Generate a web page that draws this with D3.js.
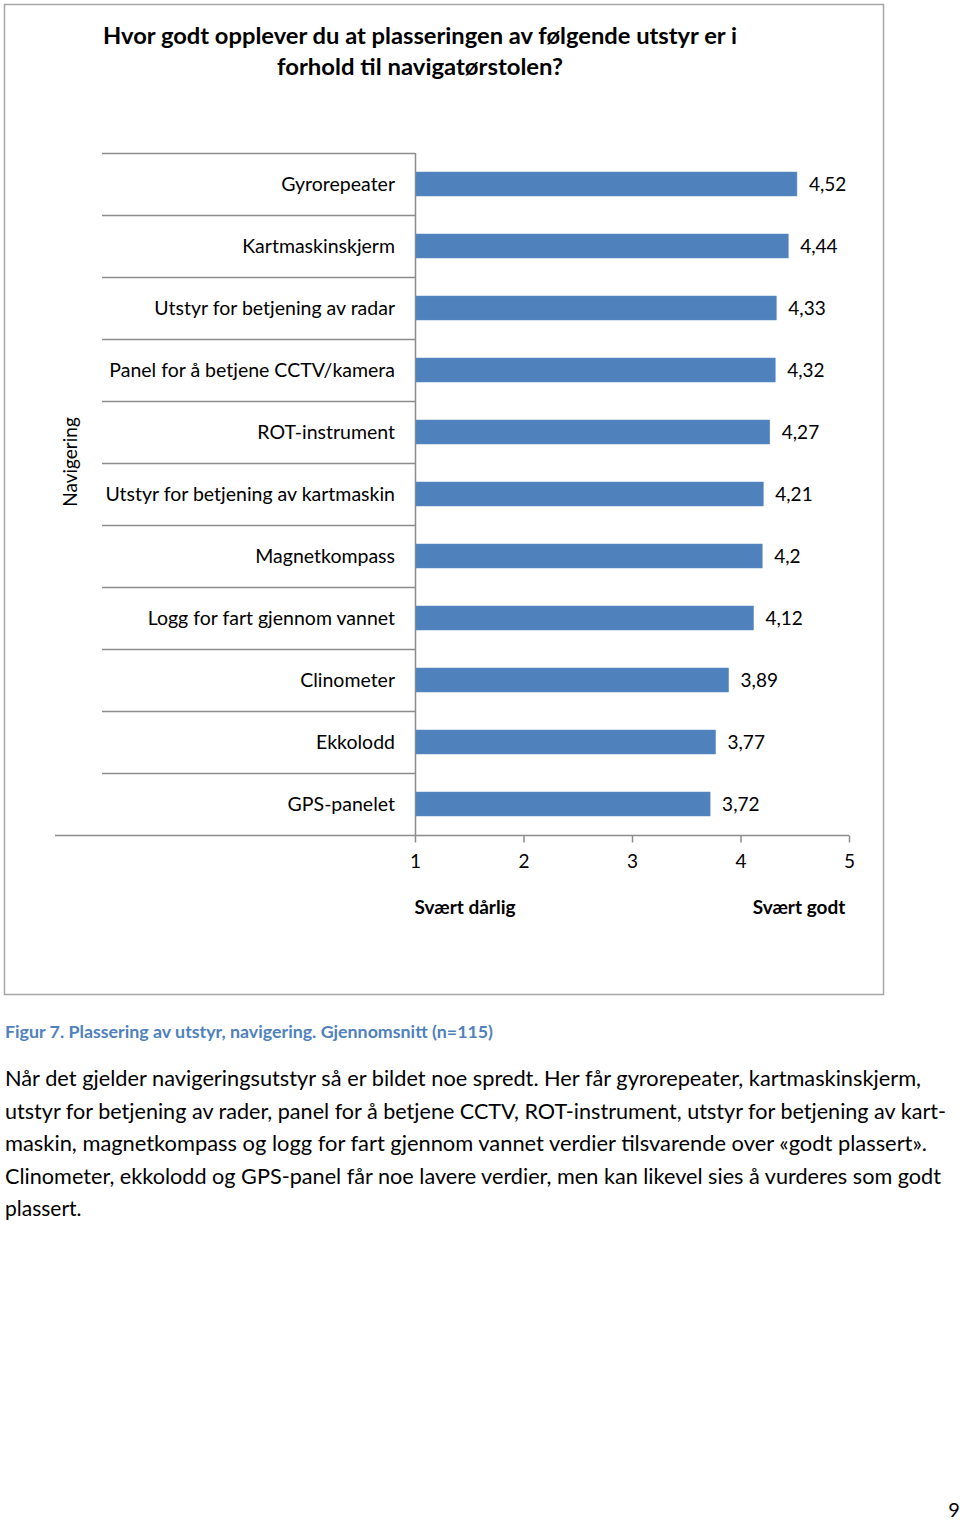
<!DOCTYPE html>
<html><head><meta charset="utf-8">
<script src="https://cdn.jsdelivr.net/npm/d3@7/dist/d3.min.js"></script>
<style>
html,body{margin:0;padding:0;background:#fff;}
svg{display:block;font-family:Lato,"Open Sans",sans-serif;}
</style></head>
<body>
<svg id="c" width="960" height="1522"></svg>
<script>
const categories = ["Gyrorepeater","Kartmaskinskjerm","Utstyr for betjening av radar","Panel for å betjene CCTV/kamera","ROT-instrument","Utstyr for betjening av kartmaskin","Magnetkompass","Logg for fart gjennom vannet","Clinometer","Ekkolodd","GPS-panelet"];
const values = [4.52,4.44,4.33,4.32,4.27,4.21,4.2,4.12,3.89,3.77,3.72];
const valueLabels = ["4,52","4,44","4,33","4,32","4,27","4,21","4,2","4,12","3,89","3,77","3,72"];
const xTicks = [1,2,3,4,5];
const titleLines = ["Hvor godt opplever du at plasseringen av følgende utstyr er i","forhold til navigatørstolen?"];
const titleWidths = [634, 286];
const groupLabel = "Navigering";
const scaleEnds = ["Svært dårlig","Svært godt"];
const caption = "Figur 7. Plassering av utstyr, navigering. Gjennomsnitt (n=115)";
const paragraph = [
 "Når det gjelder navigeringsutstyr så er bildet noe spredt. Her får gyrorepeater, kartmaskinskjerm,",
 "utstyr for betjening av rader, panel for å betjene CCTV, ROT-instrument, utstyr for betjening av kart-",
 "maskin, magnetkompass og logg for fart gjennom vannet verdier tilsvarende over «godt plassert».",
 "Clinometer, ekkolodd og GPS-panel får noe lavere verdier, men kan likevel sies å vurderes som godt",
 "plassert."
];
const paraWidths = [916, 941, 922, 936, null];
const pageNumber = "9";

const svg = d3.select("#c");
// frame
svg.append("rect").attr("x",4.5).attr("y",4.5).attr("width",879).attr("height",990)
  .attr("fill","#fff").attr("stroke","#a6a6a6").attr("stroke-width",1.5);

// title
svg.append("g").selectAll("text").data(titleLines).join("text")
  .attr("x",420).attr("y",(d,i)=>44+i*31).attr("text-anchor","middle")
  .attr("font-size",23).attr("font-weight","bold").attr("fill","#000")
  .attr("textLength",(d,i)=>titleWidths[i]).attr("lengthAdjust","spacingAndGlyphs")
  .text(d=>d);

const x = d3.scaleLinear().domain([1,5]).range([415,849]);
const y = d3.scaleBand().domain(categories).range([153,835]);
const barH = 24;

// category separator lines
const grid = svg.append("g");
grid.selectAll("line.sep").data(categories).join("line")
  .attr("x1",102).attr("x2",415).attr("y1",d=>y(d)+0.5).attr("y2",d=>y(d)+0.5)
  .attr("stroke","#8c8c8c").attr("stroke-width",1.5);
// vertical axis line
grid.append("line").attr("x1",415.5).attr("x2",415.5).attr("y1",y.range()[0]).attr("y2",y.range()[1])
  .attr("stroke","#8c8c8c").attr("stroke-width",1.5);

// bars
svg.append("g").selectAll("rect").data(values).join("rect")
  .attr("x",x(1)+1).attr("y",(d,i)=>y(categories[i])+(y.bandwidth()-barH)/2)
  .attr("width",d=>x(d)-x(1)-1).attr("height",barH)
  .attr("fill","#4f81bd").attr("stroke","#5b8ac4").attr("stroke-width",0.5);

// value labels
svg.append("g").selectAll("text").data(values).join("text")
  .attr("x",d=>x(d)+12).attr("y",(d,i)=>y(categories[i])+y.bandwidth()/2)
  .attr("dy","0.36em").attr("font-size",19).attr("fill","#000")
  .text((d,i)=>valueLabels[i]);

// category labels
svg.append("g").selectAll("text").data(categories).join("text")
  .attr("x",395).attr("y",d=>y(d)+y.bandwidth()/2).attr("dy","0.36em")
  .attr("text-anchor","end").attr("font-size",19.5).attr("fill","#000").text(d=>d);

// x axis
const xAxis = d3.axisBottom(x).tickValues(xTicks).tickSize(7).tickPadding(12)
  .tickFormat(d3.format("d"));
const ax = svg.append("g").attr("transform",`translate(0,${y.range()[1]+0.5})`).call(xAxis);
ax.select(".domain").remove();
ax.selectAll(".tick line").attr("stroke","#8c8c8c").attr("stroke-width",1.5);
ax.selectAll(".tick text").attr("font-size",19).attr("font-family","Lato,sans-serif").attr("fill","#000");
svg.append("line").attr("x1",55).attr("x2",849).attr("y1",y.range()[1]+0.5).attr("y2",y.range()[1]+0.5)
  .attr("stroke","#8c8c8c").attr("stroke-width",1.5);

// scale end labels
svg.append("text").attr("x",465).attr("y",914).attr("text-anchor","middle")
  .attr("font-size",19).attr("font-weight","bold").text(scaleEnds[0]);
svg.append("text").attr("x",799).attr("y",914).attr("text-anchor","middle")
  .attr("font-size",19).attr("font-weight","bold").text(scaleEnds[1]);

// group label
svg.append("text").attr("transform",`translate(77,${(y.range()[0]+y.range()[1])/2 - 32}) rotate(-90)`)
  .attr("text-anchor","middle").attr("font-size",19).attr("fill","#000").text(groupLabel);

// caption
svg.append("text").attr("x",5).attr("y",1038).attr("font-size",17).attr("font-weight","bold")
  .attr("fill","#4f81bd").attr("textLength",488).attr("lengthAdjust","spacingAndGlyphs").text(caption);

// paragraph
svg.append("g").selectAll("text").data(paragraph).join("text")
  .attr("x",5).attr("y",(d,i)=>1086+i*32.6).attr("font-size",21).attr("fill","#000")
  .each(function(d,i){ if(paraWidths[i]) d3.select(this).attr("textLength",paraWidths[i]).attr("lengthAdjust","spacingAndGlyphs"); })
  .text(d=>d);

// page number
svg.append("text").attr("x",954).attr("y",1517).attr("text-anchor","middle").attr("font-size",20).text(pageNumber);
</script>
</body></html>
